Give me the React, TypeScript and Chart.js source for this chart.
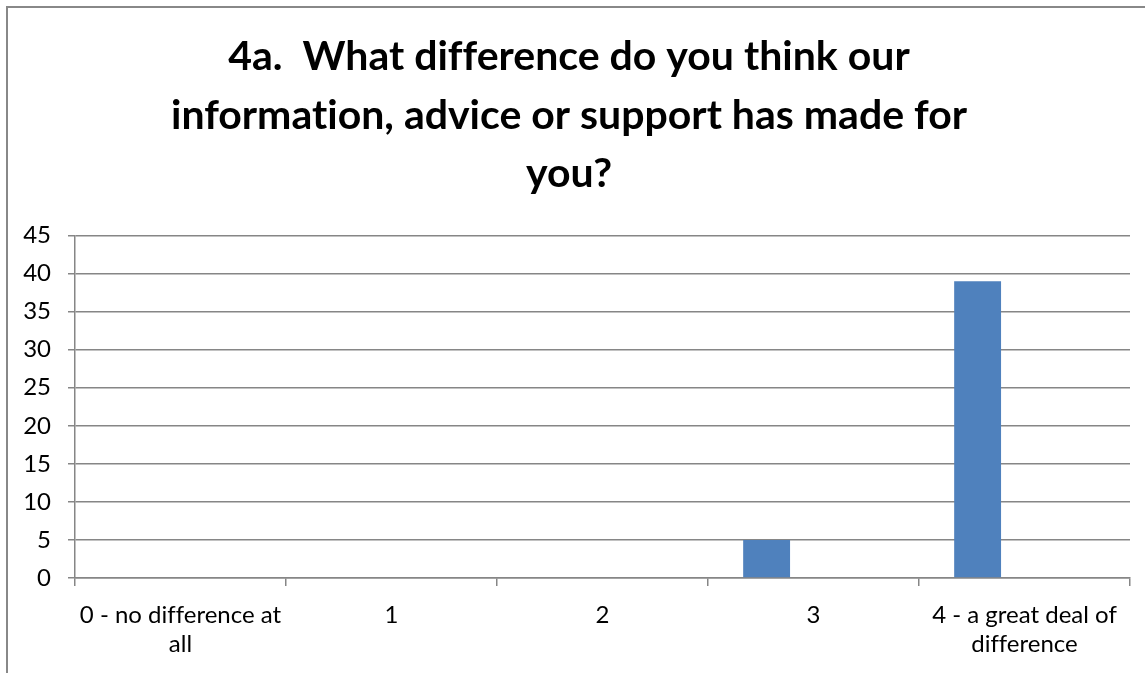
import React, { useEffect, useRef } from "react";
import { Chart, registerables } from "chart.js";

Chart.register(...registerables);

const titleLines = [
  "4a.  What difference do you think our",
  "information, advice or support has made for",
  "you?",
];
const categories: (string | string[])[] = [
  ["0 - no difference at", "all"],
  "1",
  "2",
  "3",
  ["4 - a great deal of", "difference"],
];
const seriesValues = [0, 0, 0, 5, 39];
const emptySeriesA = [null, null, null, null, null];
const emptySeriesB = [null, null, null, null, null];
const yMin = 0;
const yMax = 45;
const yStep = 5;

const FONT = "Lato, 'Open Sans', sans-serif";
const GRID = "#868686";

const noLigatures = {
  id: "noLigatures",
  beforeDraw(chart: any) {
    const ctx = chart.ctx as any;
    ctx.textRendering = "optimizeSpeed";
    ctx.fontVariantLigatures = "none";
  },
};

export default function App() {
  const ref = useRef<HTMLCanvasElement | null>(null);
  useEffect(() => {
    if (!ref.current) return;
    const chart = new Chart(ref.current, {
      type: "bar",
      data: {
        labels: categories,
        datasets: [
          {
            label: "Series1",
            data: seriesValues,
            backgroundColor: "#4F81BD",
            borderWidth: 0,
            categoryPercentage: 3 / 4.5,
            barPercentage: 1,
          },
          {
            label: "Series2",
            data: emptySeriesA,
            backgroundColor: "#C0504D",
            borderWidth: 0,
            categoryPercentage: 3 / 4.5,
            barPercentage: 1,
          },
          {
            label: "Series3",
            data: emptySeriesB,
            backgroundColor: "#9BBB59",
            borderWidth: 0,
            categoryPercentage: 3 / 4.5,
            barPercentage: 1,
          },
        ],
      },
      plugins: [noLigatures],
      options: {
        animation: false,
        responsive: true,
        maintainAspectRatio: false,
        layout: { padding: { left: 0, right: 15, top: 0, bottom: 0 } },
        plugins: {
          legend: { display: false },
          tooltip: { enabled: false },
          title: {
            display: true,
            text: titleLines,
            color: "#000",
            font: { family: FONT, size: 41, weight: "bold", lineHeight: 1.427 },
            padding: { top: 20, bottom: 32 },
          },
        },
        scales: {
          x: {
            grid: {
              offset: true,
              drawOnChartArea: false,
              drawTicks: true,
              tickLength: 8,
              color: GRID,
              lineWidth: 1.5,
            },
            border: { display: true, color: GRID, width: 1.5 },
            ticks: {
              color: "#000",
              font: { family: FONT, size: 24, lineHeight: 1.2 },
              padding: 15,
              maxRotation: 0,
              autoSkip: false,
            },
            afterFit: (s: any) => {
              s.height = 95;
            },
          },
          y: {
            min: yMin,
            max: yMax,
            grid: {
              color: GRID,
              lineWidth: 1.5,
              drawTicks: true,
              tickLength: 7,
            },
            border: { display: true, color: GRID, width: 1.5 },
            ticks: {
              stepSize: yStep,
              color: "#000",
              font: { family: FONT, size: 24 },
              padding: 17,
            },
            afterFit: (s: any) => {
              s.width = 67;
            },
          },
        },
      },
    });
    return () => chart.destroy();
  }, []);
  return (
    <>
      <style>{"body{margin:0;overflow:hidden;background:#fff}"}</style>
      <div
        style={{
          position: "absolute",
          left: 6,
          top: 6,
          width: 1139,
          height: 667,
          borderLeft: "2px solid #888",
          borderTop: "2px solid #888",
          boxSizing: "border-box",
          background: "#fff",
        }}
      >
        <div style={{ position: "relative", width: 1137, height: 665 }}>
          <canvas ref={ref} style={{ fontVariantLigatures: "none" }} />
        </div>
      </div>
    </>
  );
}
